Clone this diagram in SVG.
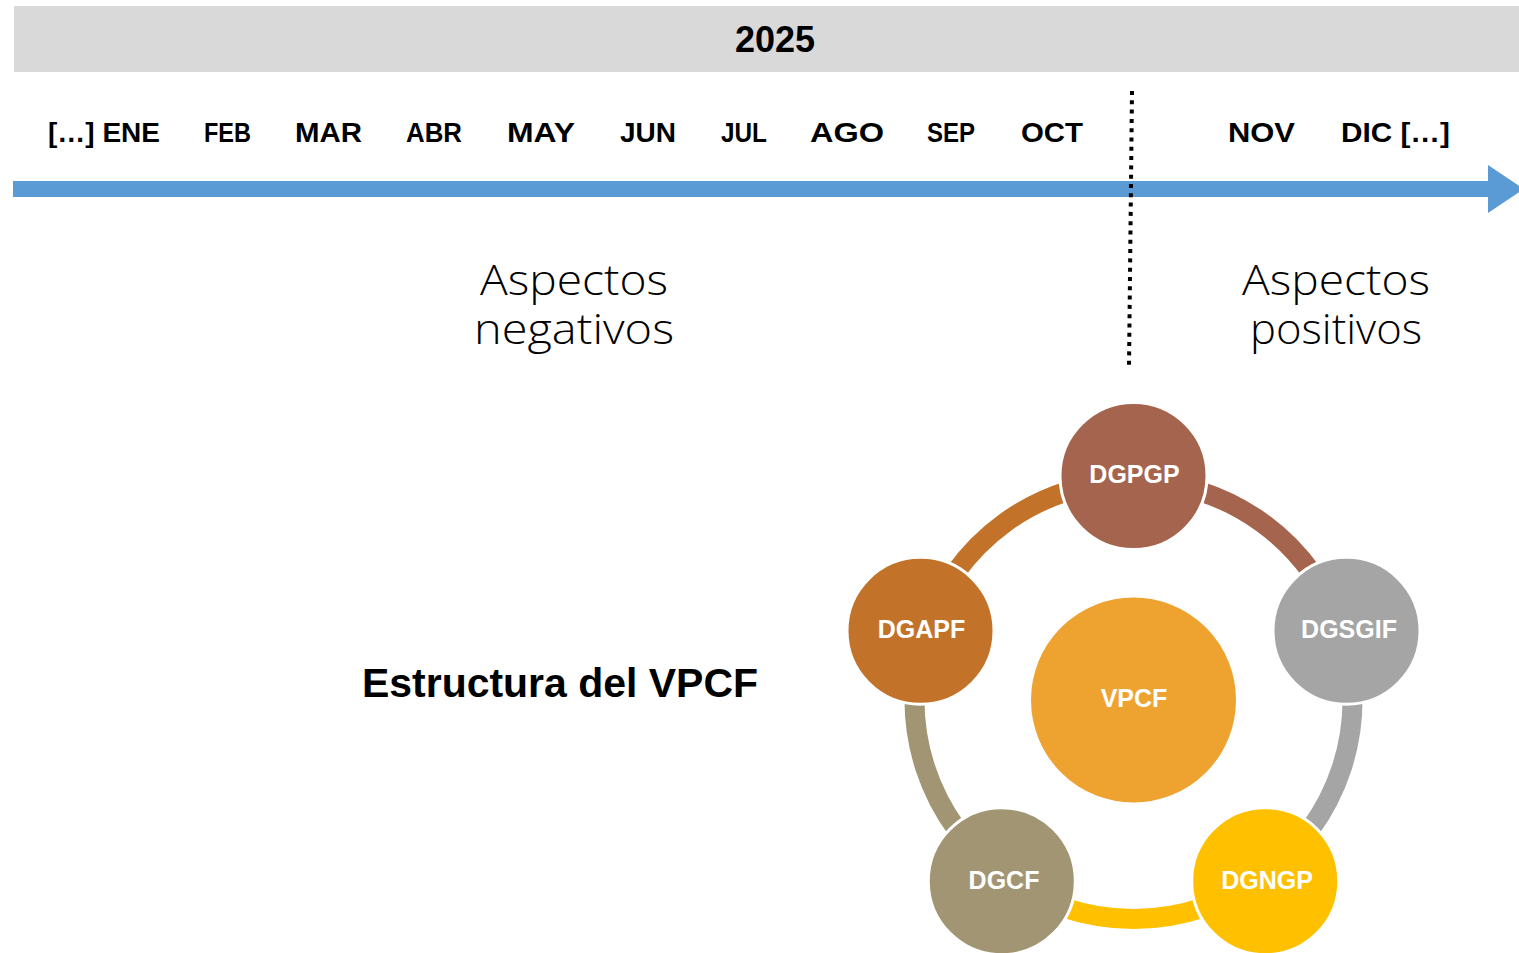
<svg xmlns="http://www.w3.org/2000/svg" width="1519" height="953" viewBox="0 0 1519 953">
<style>
.month{font-family:"Liberation Sans",Arial,sans-serif;font-weight:bold;font-size:27px;fill:#000;text-anchor:middle}
.aspect{font-family:"Open Sans","Liberation Sans",sans-serif;font-weight:300;font-size:43px;fill:#000;text-anchor:middle}
.node text{font-family:"Liberation Sans",Arial,sans-serif;font-weight:bold;font-size:25px;fill:#fff;text-anchor:middle}
.node circle{stroke:#fff;stroke-width:3}
.arc{fill:none;stroke-width:20}
</style>
<rect width="1519" height="953" fill="#fff"/>
<g id="header">
<rect x="14" y="6" width="1505" height="66" fill="#d9d9d9"/>
<text x="775" y="52" font-family="Liberation Sans,Arial,sans-serif" font-weight="bold" font-size="36" text-anchor="middle" fill="#000">2025</text>
</g>
<g id="months">
<text class="month" x="104" y="142" textLength="112" lengthAdjust="spacingAndGlyphs">[…] ENE</text>
<text class="month" x="227.5" y="142" textLength="47" lengthAdjust="spacingAndGlyphs">FEB</text>
<text class="month" x="328.5" y="142" textLength="67" lengthAdjust="spacingAndGlyphs">MAR</text>
<text class="month" x="434" y="142" textLength="56" lengthAdjust="spacingAndGlyphs">ABR</text>
<text class="month" x="541" y="142" textLength="68" lengthAdjust="spacingAndGlyphs">MAY</text>
<text class="month" x="648" y="142" textLength="56" lengthAdjust="spacingAndGlyphs">JUN</text>
<text class="month" x="744" y="142" textLength="46" lengthAdjust="spacingAndGlyphs">JUL</text>
<text class="month" x="847" y="142" textLength="74" lengthAdjust="spacingAndGlyphs">AGO</text>
<text class="month" x="951" y="142" textLength="48" lengthAdjust="spacingAndGlyphs">SEP</text>
<text class="month" x="1052" y="142" textLength="62" lengthAdjust="spacingAndGlyphs">OCT</text>
<text class="month" x="1261.5" y="142" textLength="67" lengthAdjust="spacingAndGlyphs">NOV</text>
<text class="month" x="1395.5" y="142" textLength="109" lengthAdjust="spacingAndGlyphs">DIC […]</text>
</g>
<g id="timeline">
<rect x="13" y="181" width="1476" height="16" fill="#5b9bd5"/>
<polygon points="1488,165 1524,189 1488,213" fill="#5b9bd5"/>
<line x1="1132" y1="91" x2="1129" y2="367" stroke="#000" stroke-width="4" stroke-dasharray="4 5.3"/>
</g>
<g id="aspects">
<text class="aspect" x="574" y="295" textLength="188" lengthAdjust="spacingAndGlyphs">Aspectos</text>
<text class="aspect" x="574" y="344" textLength="200" lengthAdjust="spacingAndGlyphs">negativos</text>
<text class="aspect" x="1336" y="295" textLength="188" lengthAdjust="spacingAndGlyphs">Aspectos</text>
<text class="aspect" x="1336" y="344" textLength="172" lengthAdjust="spacingAndGlyphs">positivos</text>
</g>
<g id="title">
<text x="362" y="697" font-family="Liberation Sans,Arial,sans-serif" font-weight="bold" font-size="41" fill="#000" textLength="396" lengthAdjust="spacingAndGlyphs">Estructura del VPCF</text>
</g>
<g id="connectors">
<path class="arc" stroke="#a5644e" d="M1133.5,481 A219,219 0 0 1 1341.8,632.3"/>
<path class="arc" stroke="#a5a5a5" d="M1341.8,632.3 A219,219 0 0 1 1262.2,877.2"/>
<path class="arc" stroke="#ffc000" d="M1262.2,877.2 A219,219 0 0 1 1004.8,877.2"/>
<path class="arc" stroke="#a29574" d="M1004.8,877.2 A219,219 0 0 1 925.2,632.3"/>
<path class="arc" stroke="#c27329" d="M925.2,632.3 A219,219 0 0 1 1133.5,481"/>
</g>
<g id="VPCF" class="node">
<circle cx="1133.5" cy="700" r="104" fill="#eea330" stroke="none"/>
<text x="1134" y="707">VPCF</text>
</g>
<g id="DGPGP" class="node">
<circle cx="1133.5" cy="476" r="73.5" fill="#a5644e"/>
<text x="1134.5" y="483">DGPGP</text>
</g>
<g id="DGSGIF" class="node">
<circle cx="1346.5" cy="630.8" r="73.5" fill="#a5a5a5"/>
<text x="1349" y="638">DGSGIF</text>
</g>
<g id="DGNGP" class="node">
<circle cx="1265.2" cy="881.2" r="73.5" fill="#ffc000"/>
<text x="1267" y="888.5">DGNGP</text>
</g>
<g id="DGCF" class="node">
<circle cx="1001.8" cy="881.2" r="73.5" fill="#a29574"/>
<text x="1004" y="888.5">DGCF</text>
</g>
<g id="DGAPF" class="node">
<circle cx="920.5" cy="630.8" r="73.5" fill="#c27329"/>
<text x="921.5" y="638">DGAPF</text>
</g>
</svg>
